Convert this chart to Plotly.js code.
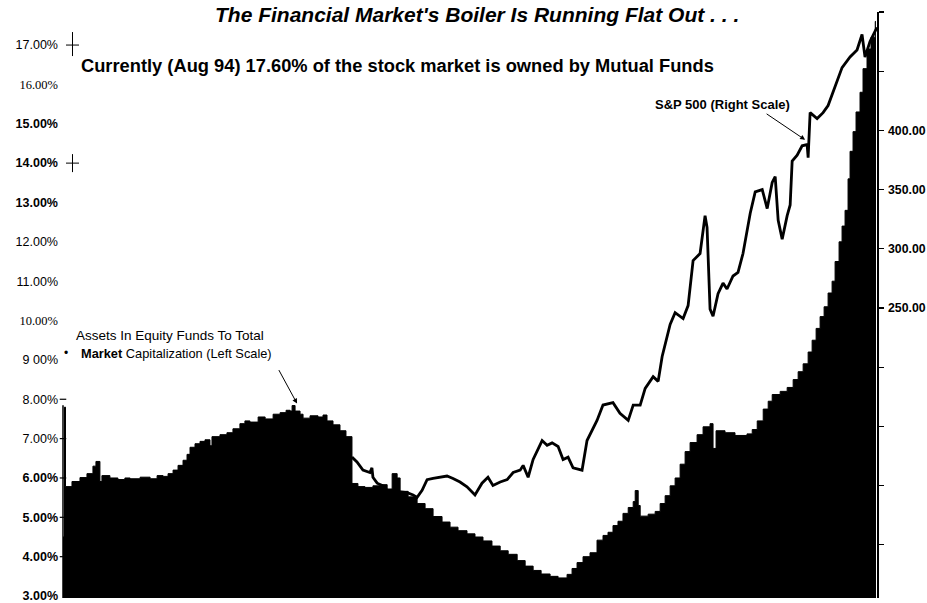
<!DOCTYPE html>
<html>
<head>
<meta charset="utf-8">
<script src="https://cdn.plot.ly/plotly-3.0.1.min.js"></script>
<style>html,body{margin:0;padding:0;background:#fff;overflow:hidden}#chart{width:927px;height:603px}</style>
</head>
<body>
<div id="chart"></div>
<script>
// Assets in equity funds / total market capitalization (%), step series
const fundYears = [1962.00,1962.06,1962.10,1962.36,1962.68,1962.96,1963.20,1963.32,1963.48,1963.56,1963.88,1964.20,1964.48,1964.69,1965.09,1965.49,1965.77,1966.01,1966.21,1966.41,1966.61,1966.81,1966.97,1967.09,1967.29,1967.49,1967.69,1967.89,1967.97,1968.29,1968.57,1968.81,1969.09,1969.29,1969.49,1969.82,1970.10,1970.42,1970.70,1970.94,1971.10,1971.18,1971.30,1971.50,1971.62,1971.90,1972.22,1972.42,1972.58,1972.82,1973.10,1973.34,1973.58,1973.82,1974.10,1974.42,1974.71,1974.99,1975.19,1975.39,1975.51,1975.83,1976.19,1976.51,1976.83,1977.19,1977.51,1977.83,1978.19,1978.51,1978.83,1979.19,1979.52,1979.84,1980.20,1980.52,1980.84,1981.16,1981.52,1981.84,1982.20,1982.40,1982.60,1982.84,1983.12,1983.40,1983.64,1983.84,1984.04,1984.24,1984.44,1984.65,1984.85,1984.93,1985.05,1985.13,1985.45,1985.73,1985.93,1986.13,1986.33,1986.53,1986.73,1986.93,1987.13,1987.41,1987.65,1987.93,1988.05,1988.17,1988.53,1988.93,1989.41,1989.62,1989.82,1990.06,1990.26,1990.42,1990.74,1991.02,1991.26,1991.46,1991.66,1991.86,1992.02,1992.18,1992.34,1992.50,1992.66,1992.82,1992.94,1993.10,1993.22,1993.34,1993.46,1993.54,1993.66,1993.78,1993.94,1994.06,1994.22,1994.38,1994.55,1994.58];
const fundPct = [4.5,7.8,5.78,5.91,6.01,6.11,6.3,6.42,5.91,6.06,6.0,5.96,6.0,5.98,6.02,5.98,6.06,6.04,6.11,6.2,6.32,6.45,6.6,6.78,6.87,6.93,6.97,6.82,7.05,7.1,7.15,7.25,7.38,7.45,7.42,7.55,7.5,7.62,7.66,7.72,7.7,7.84,7.7,7.62,7.52,7.58,7.55,7.6,7.45,7.35,7.2,7.05,5.86,5.78,5.76,5.8,5.83,5.72,6.11,6.0,5.66,5.52,5.35,5.22,5.02,4.88,4.75,4.66,4.58,4.5,4.4,4.27,4.15,4.06,3.9,3.76,3.65,3.56,3.5,3.46,3.55,3.7,3.85,4.0,4.1,4.42,4.54,4.62,4.79,4.9,5.1,5.25,5.4,5.68,5.3,5.03,5.08,5.15,5.35,5.55,5.8,6.0,6.35,6.67,6.9,7.1,7.3,7.38,6.75,7.2,7.15,7.08,7.12,7.23,7.45,7.75,7.95,8.12,8.2,8.3,8.5,8.7,8.9,9.2,9.5,9.8,10.1,10.35,10.7,11.0,11.5,12.0,12.4,12.8,13.6,14.3,14.8,15.3,15.8,16.4,16.9,17.2,17.6,17.6];

// S&P 500 (right scale)
const spxYears = [1973.58,1973.78,1974.02,1974.30,1974.38,1974.42,1974.59,1974.79,1974.99,1975.39,1975.79,1976.03,1976.19,1976.39,1976.59,1976.83,1977.11,1977.39,1977.63,1977.91,1978.19,1978.51,1978.79,1979.03,1979.23,1979.52,1979.80,1980.04,1980.32,1980.44,1980.64,1980.84,1981.20,1981.40,1981.60,1981.84,1982.04,1982.24,1982.44,1982.80,1983.00,1983.24,1983.40,1983.64,1984.04,1984.32,1984.65,1984.85,1985.13,1985.33,1985.65,1985.85,1986.01,1986.33,1986.53,1986.85,1987.05,1987.25,1987.53,1987.73,1987.81,1987.93,1988.05,1988.25,1988.45,1988.61,1988.85,1989.05,1989.25,1989.54,1989.74,1990.02,1990.22,1990.42,1990.54,1990.66,1990.82,1991.02,1991.14,1991.22,1991.42,1991.62,1991.82,1991.86,1991.94,1992.22,1992.46,1992.66,1992.94,1993.22,1993.54,1993.82,1994.02,1994.14,1994.34,1994.62];
const spxValues = [124,120,113,111,115,107,102,100,96,95,94,92,90,96,105,106,107,108,106,103,99,92,102,107,100,103,105,111,113,117,107,122,138,134,136,133,122,124,115,113,138,149,155,168,170,161,155,168,168,182,192,188,209,236,246,241,252,290,296,328,318,249,243,262,271,266,277,280,296,330,348,350,334,356,361,324,308,328,337,374,379,387,388,377,415,410,415,421,437,453,462,468,481,462,475,487];

const leftTickVals = [3,4,5,6,7,8,9,10,11,12,13,14,15,16,17];
const SERIF = '<span style="font-family:Liberation Serif;color:#000">';
const leftTickText = ['<b>3.00%</b>','<b>4.00%</b>','<b>5.00%</b>','<b>6.00%</b>','7.00%','8.00%','9 00%',
  SERIF + '10.00%</span>','11.00%','12.00%','<b>13.00%</b>','<b>14.00%</b>','<b>15.00%</b>',
  SERIF + '16.00%</span>','17.00%'];
const rightTickVals = [50,100,150,200,250,300,350,400,450,500];
const rightTickText = ['','','','','<b>250.00</b>','<b>300.00</b>','<b>350.00</b>','<b>400.00</b>','',''];
const leftAxisMarks = [4,5,6,7,8];

const W = 927, H = 603, L = 63, R = 877, T = 12, B = 598;
const px = v => (v - L) / (R - L);
const py = v => (B - v) / (B - T);
const FONT = 'Liberation Sans, Arial, sans-serif';
const Y0 = 2.95, Y1 = 17.84;
const pctPx = (B - T) / (Y1 - Y0);

const traces = [
  {x: fundYears, y: fundPct, type: 'scatter', mode: 'lines', line: {shape: 'hv', color: '#000', width: 1},
   fill: 'tozeroy', fillcolor: '#000', yaxis: 'y', hoverinfo: 'skip'},
  {x: spxYears, y: spxValues, type: 'scatter', mode: 'lines', line: {color: '#000', width: 2.8},
   yaxis: 'y2', hoverinfo: 'skip'}
];

const shapes = [
  {type: 'line', xref: 'paper', yref: 'y', x0: 0, x1: 0, y0: Y0, y1: 7.85, line: {color: '#000', width: 1.5}}
];
leftAxisMarks.forEach(v => shapes.push({type: 'line', xref: 'paper', yref: 'y', x0: -0.004, x1: 0.004, y0: v, y1: v, line: {color: '#000', width: 1.2}}));
// scan crosses near 17% and 14%
[[17, 13, 11],[14, 9, 9]].forEach(([v, up, dn]) => {
  const cy = B - (v - Y0) * pctPx;
  shapes.push({type: 'line', xref: 'paper', yref: 'y', x0: px(66), x1: px(79), y0: v, y1: v, line: {color: '#000', width: 1}});
  shapes.push({type: 'line', xref: 'paper', yref: 'paper', x0: px(72.5), x1: px(72.5), y0: py(cy - up), y1: py(cy + dn), line: {color: '#000', width: 1}});
});

const annotations = [
  {xref: 'paper', yref: 'paper', x: px(477), y: py(14), xanchor: 'center', yanchor: 'middle', showarrow: false,
   text: "<b><i>The Financial Market's Boiler Is Running Flat Out . . .</i></b>", font: {family: FONT, size: 21, color: '#000'}},
  {xref: 'paper', yref: 'paper', x: px(79), y: py(65), xanchor: 'left', yanchor: 'middle', showarrow: false,
   text: '<b>Currently (Aug 94) 17.60% of the stock market is owned by Mutual Funds</b>', font: {family: FONT, size: 18.3, color: '#000'}},
  {xref: 'paper', yref: 'paper', x: px(74), y: py(335), xanchor: 'left', yanchor: 'middle', showarrow: false,
   text: 'Assets In Equity Funds To Total', font: {family: FONT, size: 13.5, color: '#000'}},
  {xref: 'paper', yref: 'paper', x: px(62), y: py(353), xanchor: 'left', yanchor: 'middle', showarrow: false,
   text: '•', font: {family: FONT, size: 12, color: '#000'}},
  {xref: 'paper', yref: 'paper', x: px(79), y: py(353), xanchor: 'left', yanchor: 'middle', showarrow: false,
   text: '<b>Market</b> Capitalization (Left Scale)', font: {family: FONT, size: 12.8, color: '#000'}},
  {xref: 'x', yref: 'y', x: 1971.38, y: 7.89, ax: -19, ay: -35, showarrow: true, text: '',
   arrowhead: 2, arrowsize: 1, arrowwidth: 1, arrowcolor: '#000'},
  {xref: 'paper', yref: 'paper', x: px(722), y: py(104), xanchor: 'center', yanchor: 'middle', showarrow: false,
   text: '<b>S&amp;P 500 (Right Scale)</b>', font: {family: FONT, size: 13, color: '#000'}},
  {xref: 'x', yref: 'y2', x: 1991.74, y: 392, ax: -40, ay: -27, showarrow: true, text: '',
   arrowhead: 2, arrowsize: 1, arrowwidth: 1, arrowcolor: '#000'}
];

const layout = {
  width: W, height: H,
  margin: {l: L, r: W - R, t: T, b: H - B, pad: 0},
  paper_bgcolor: '#fff', plot_bgcolor: '#fff',
  showlegend: false,
  xaxis: {range: [1962, 1994.62], showgrid: false, zeroline: false, showline: false, ticks: '', showticklabels: false, fixedrange: true},
  yaxis: {range: [Y0, Y1], showgrid: false, zeroline: false, showline: false, ticks: '',
    tickvals: leftTickVals, ticktext: leftTickText, ticklabelstandoff: 4, ticklabeloverflow: 'allow',
    tickfont: {family: FONT, size: 12.5, color: '#000'}},
  yaxis2: {range: [5, 500], overlaying: 'y', side: 'right', showgrid: false, zeroline: false,
    showline: true, linecolor: '#000', linewidth: 1.5, ticks: 'outside', ticklen: 5, tickcolor: '#000', tickwidth: 1.2,
    tickvals: rightTickVals, ticktext: rightTickText, ticklabelstandoff: 2, ticklabeloverflow: 'allow',
    tickfont: {family: FONT, size: 12.3, color: '#000'}},
  shapes: shapes,
  annotations: annotations
};

Plotly.newPlot('chart', traces, layout, {staticPlot: true, displayModeBar: false});
</script>
</body>
</html>
